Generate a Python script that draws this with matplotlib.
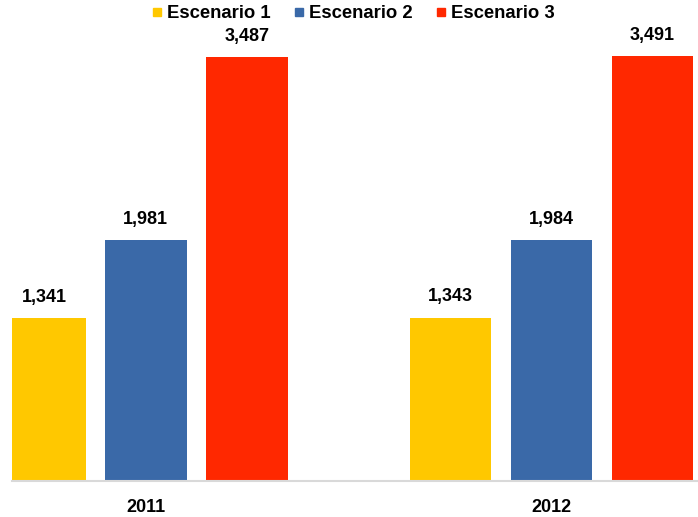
import matplotlib.pyplot as plt
import numpy as np

years = ['2011', '2012']
series = ['Escenario 1', 'Escenario 2', 'Escenario 3']
esc1 = [1341, 1343]
esc2 = [1981, 1984]
esc3 = [3487, 3491]
colors = ['#FFC800', '#3A69A8', '#FF2800']

plt.rcParams['font.family'] = ['Liberation Sans', 'DejaVu Sans']

fig = plt.figure(figsize=(6.98, 5.17), dpi=100)
ax = fig.add_axes([12 / 698, 36 / 517, 685 / 698, 461 / 517])

x = np.array([0.0, 1.0])
pitch = 0.249
width = 0.201
for i, (name, vals) in enumerate(zip(series, [esc1, esc2, esc3])):
    xs = x + (i - 1) * pitch
    ax.bar(xs, vals, width, color=colors[i], label=name, zorder=2)
    for xi, v in zip(xs, vals):
        ax.text(xi, v + 100, f'{v:,}', ha='center', va='bottom',
                fontsize=13, fontweight='bold')

ax.set_xlim(-0.330, 1.359)
ax.set_ylim(0, 3790)
ax.set_xticks(x)
ax.set_xticklabels(years, fontsize=13, fontweight='bold')
ax.tick_params(axis='x', length=0, pad=13)
ax.set_yticks([])
for side in ['top', 'right', 'left']:
    ax.spines[side].set_visible(False)
ax.spines['bottom'].set_color('#D9D9D9')
ax.spines['bottom'].set_linewidth(1.5)

handles = [plt.Line2D([], [], marker='s', linestyle='none', color=c, markersize=6)
           for c in colors]
fig.legend(handles, series, loc='center', bbox_to_anchor=(0.503, 1 - 14 / 517),
           ncol=3, frameon=False, handletextpad=0.05, handlelength=1.0,
           columnspacing=1.03, prop={'weight': 'bold', 'size': 13.3})

fig.savefig('out.png', dpi=100)
